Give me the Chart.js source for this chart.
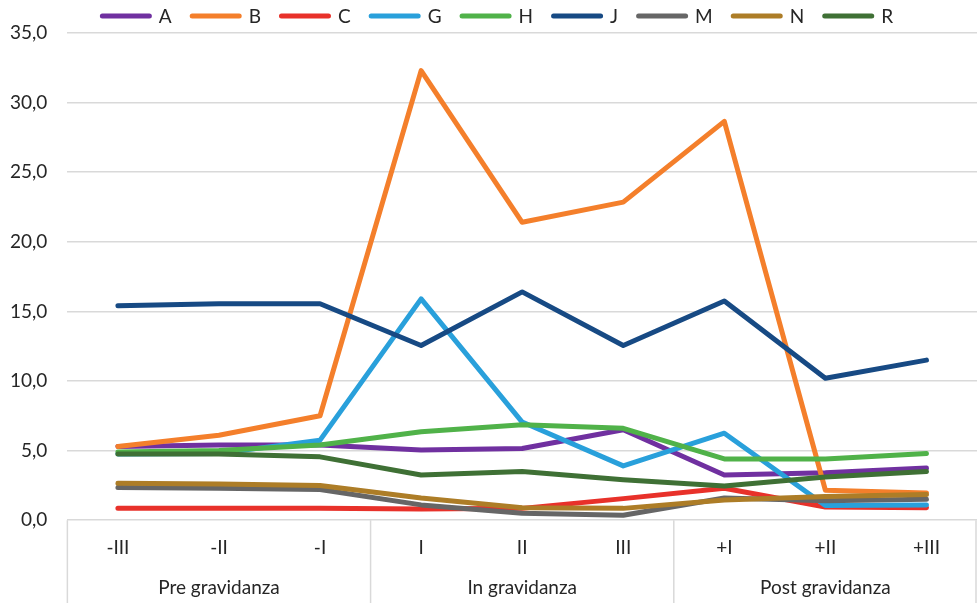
<!DOCTYPE html>
<html>
<head>
<meta charset="utf-8">
<script src="https://cdn.jsdelivr.net/npm/chart.js@4/dist/chart.umd.min.js"></script>
<style>
  html, body { margin: 0; padding: 0; background: #ffffff; }
  #wrap { width: 977px; height: 603px; }
</style>
</head>
<body>
<div id="wrap"><canvas id="chart" width="977" height="603"></canvas></div>
<script>
// Trimesters before, during and after pregnancy
const categories = ['-III', '-II', '-I', 'I', 'II', 'III', '+I', '+II', '+III'];
const groups = ['Pre gravidanza', 'In gravidanza', 'Post gravidanza'];
const groupSize = 3;

const seriesNames = ['A', 'B', 'C', 'G', 'H', 'J', 'M', 'N', 'R'];
const valuesA = [5.3, 5.4, 5.4, 5.05, 5.15, 6.5, 3.25, 3.4, 3.75];
const valuesB = [5.3, 6.1, 7.5, 32.3, 21.4, 22.85, 28.65, 2.15, 1.95];
const valuesC = [0.85, 0.85, 0.85, 0.8, 0.85, 1.55, 2.3, 0.95, 0.9];
const valuesG = [4.75, 4.8, 5.75, 15.9, 7.05, 3.9, 6.25, 1.05, 1.1];
const valuesH = [4.9, 5.0, 5.4, 6.35, 6.85, 6.6, 4.4, 4.4, 4.8];
const valuesJ = [15.4, 15.55, 15.55, 12.55, 16.4, 12.55, 15.75, 10.2, 11.5];
const valuesM = [2.35, 2.3, 2.2, 1.1, 0.5, 0.35, 1.6, 1.4, 1.5];
const valuesN = [2.65, 2.6, 2.5, 1.6, 0.9, 0.85, 1.45, 1.7, 1.85];
const valuesR = [4.75, 4.75, 4.55, 3.25, 3.5, 2.9, 2.45, 3.1, 3.5];

const yMin = 0;
const yMax = 35;
const yStep = 5;

const seriesValues = [valuesA, valuesB, valuesC, valuesG, valuesH, valuesJ, valuesM, valuesN, valuesR];
const seriesColors = ['#7030a0', '#f47f2b', '#e8312a', '#29a0db', '#50b249', '#174a84', '#666666', '#ad7d27', '#3f7035'];

const FONT = 'Lato, "Noto Sans", sans-serif';
const FONT_SIZE = 19;
const TEXT_COLOR = '#262626';
const GRID_COLOR = '#d9d9d9';

function fmt(v) { return v.toFixed(1).replace('.', ','); }

// Later series are painted over earlier ones
const datasets = seriesNames.map((name, i) => ({
  label: name,
  data: seriesValues[i],
  borderColor: seriesColors[i],
  backgroundColor: seriesColors[i],
  borderWidth: 5,
  borderCapStyle: 'round',
  borderJoinStyle: 'round',
  pointRadius: 0,
  pointHoverRadius: 0,
  tension: 0,
  fill: false,
  order: seriesNames.length - i
}));

// Legend: a short line sample followed by the series name, one row across the top
const lineLegend = {
  id: 'lineLegend',
  afterDraw(chart) {
    const ctx = chart.ctx;
    const sample = 52, gapText = 7, gapItem = 18;
    ctx.save();
    ctx.font = FONT_SIZE + 'px ' + FONT;
    const items = chart.data.datasets.map(ds => ({
      label: ds.label, color: ds.borderColor, w: ctx.measureText(ds.label).width
    }));
    const total = items.reduce((s, it) => s + sample + gapText + it.w, 0) + gapItem * (items.length - 1);
    let x = chart.width / 2 + 8 - total / 2;
    const y = 16;
    ctx.textBaseline = 'middle';
    ctx.textAlign = 'left';
    items.forEach(it => {
      ctx.beginPath();
      ctx.lineCap = 'round';
      ctx.lineWidth = 5;
      ctx.strokeStyle = it.color;
      ctx.moveTo(x + 2.5, y);
      ctx.lineTo(x + sample - 2.5, y);
      ctx.stroke();
      ctx.fillStyle = TEXT_COLOR;
      ctx.fillText(it.label, x + sample + gapText, y + 1);
      x += sample + gapText + it.w + gapItem;
    });
    ctx.restore();
  }
};

// Second row of the category axis: group names and the boxes around them
const groupAxis = {
  id: 'groupAxis',
  afterDraw(chart) {
    const ctx = chart.ctx;
    const xs = chart.scales.x;
    const area = chart.chartArea;
    const half = (xs.getPixelForValue(1) - xs.getPixelForValue(0)) / 2;
    ctx.save();
    ctx.strokeStyle = GRID_COLOR;
    ctx.lineWidth = 1.5;
    const bounds = [];
    for (let g = 0; g <= groups.length; g++) {
      const idx = g * groupSize;
      const px = idx < categories.length ? xs.getPixelForValue(idx) - half
                                         : xs.getPixelForValue(categories.length - 1) + half;
      bounds.push(px);
    }
    bounds.forEach((px, k) => {
      const bx = k === bounds.length - 1 ? Math.min(px, chart.width - 1) : px;
      ctx.beginPath();
      ctx.moveTo(bx, area.bottom);
      ctx.lineTo(bx, chart.height);
      ctx.stroke();
    });
    ctx.fillStyle = TEXT_COLOR;
    ctx.font = FONT_SIZE + 'px ' + FONT;
    ctx.textAlign = 'center';
    ctx.textBaseline = 'middle';
    groups.forEach((name, g) => {
      ctx.fillText(name, (bounds[g] + bounds[g + 1]) / 2, 588);
    });
    ctx.restore();
  }
};

new Chart(document.getElementById('chart'), {
  type: 'line',
  data: { labels: categories, datasets },
  plugins: [lineLegend, groupAxis],
  options: {
    responsive: false,
    animation: false,
    layout: { padding: { top: 33, left: -10, right: 0, bottom: 28 } },
    plugins: {
      legend: { display: false },
      tooltip: { enabled: false }
    },
    scales: {
      x: {
        type: 'category',
        offset: true,
        grid: { display: false, drawTicks: false },
        border: { display: false },
        ticks: {
          padding: 16,
          color: TEXT_COLOR,
          font: { family: FONT, size: FONT_SIZE },
          maxRotation: 0,
          autoSkip: false
        }
      },
      y: {
        min: yMin,
        max: yMax,
        grid: { color: GRID_COLOR, lineWidth: 1.5, drawTicks: false },
        border: { display: false },
        ticks: {
          stepSize: yStep,
          padding: 20,
          color: TEXT_COLOR,
          font: { family: FONT, size: FONT_SIZE },
          callback: v => fmt(v)
        }
      }
    }
  }
});
</script>
</body>
</html>
